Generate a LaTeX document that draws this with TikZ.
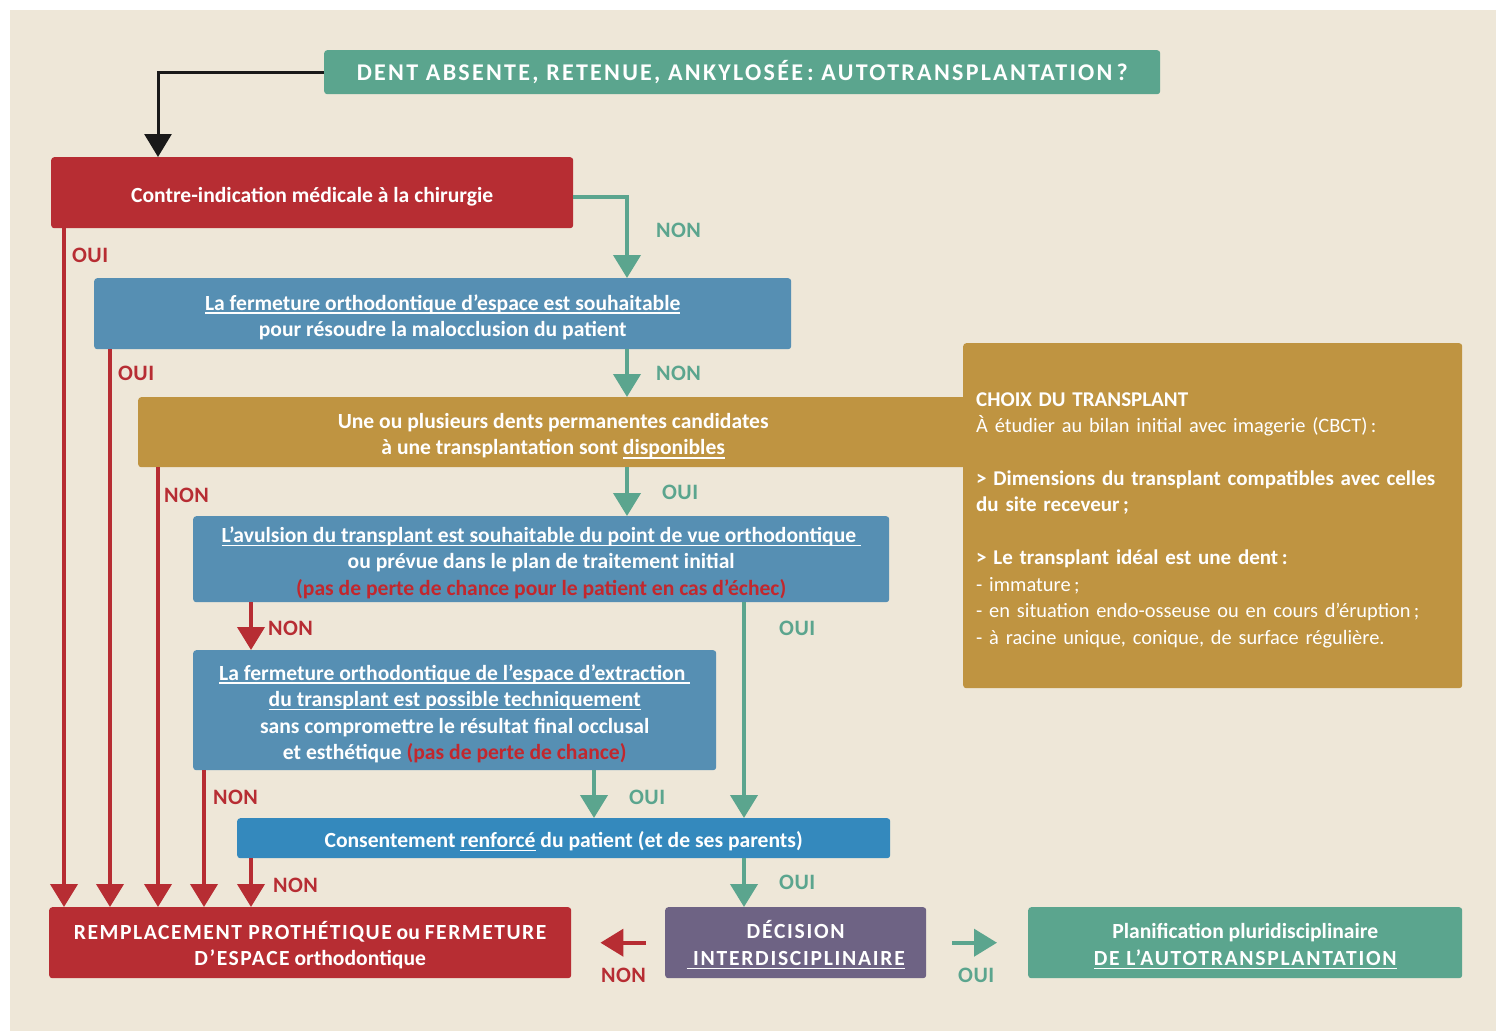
\documentclass[tikz,border=0pt]{standalone}
\usepackage{fontspec}
\setmainfont{Carlito}
\usetikzlibrary{arrows.meta}
\definecolor{bgc}{HTML}{EEE7D8}
\definecolor{tealc}{HTML}{5BA58E}
\definecolor{redc}{HTML}{B72D33}
\definecolor{bluec}{HTML}{568FB3}
\definecolor{consc}{HTML}{3489BD}
\definecolor{goldc}{HTML}{BF9441}
\definecolor{purc}{HTML}{6E6384}
\definecolor{redt}{HTML}{C2272D}
\newcommand\myul[1]{\setbox0\hbox{#1}\rlap{\vrule width\wd0 height -2.4pt depth 3.8pt}\box0\relax}
\newcommand\flst{\rule{0pt}{22.5pt}}
\tikzset{
  box/.style={rounded corners=3pt, inner sep=0pt, align=center, text=white,
    font=\bfseries\fontsize{21.6}{26.5}\selectfont, anchor=north west},
  tarr/.style={draw=tealc, line width=4pt, -{Triangle[width=27pt,length=23pt]}},
  rarr/.style={draw=redc, line width=4pt, -{Triangle[width=27pt,length=23pt]}},
  barr/.style={draw=black!90, line width=3pt, -{Triangle[width=27pt,length=23pt]}},
  lbl/.style={font=\bfseries\fontsize{22}{24}\selectfont\addfontfeature{LetterSpace=2}, inner sep=0pt, anchor=west},
  tl/.style={lbl, text=tealc},
  rl/.style={lbl, text=redc},
}
\begin{document}
\begin{tikzpicture}[x=1pt,y=-1pt]
\useasboundingbox (0,0) rectangle (1496,1031);
\fill[white] (0,0) rectangle (1496,1031);
\fill[bgc] (10,10) rectangle (1496,1031);

% x positions of vertical connectors
\coordinate (cx) at (627,0);
\coordinate (cy) at (744,0);
\coordinate (cz) at (594,0);
\coordinate (ck) at (158,0);

% boxes
\node[box, fill=tealc, minimum width=836pt, minimum height=44pt,
  font=\bfseries\fontsize{24}{26}\selectfont\addfontfeature{LetterSpace=9.5}] (top) at (324,50)
  {DENT ABSENTE, RETENUE, ANKYLOSÉE\,: AUTOTRANSPLANTATION\,?};

\node[box, fill=redc, minimum width=522pt, minimum height=71pt] (r1) at (51,157)
  {\flst Contre-indication médicale à la chirurgie};

\node[box, fill=bluec, minimum width=697pt, minimum height=71pt] (b2) at (94,278)
  {\flst\myul{La fermeture orthodontique d’espace est souhaitable}\\
   pour résoudre la malocclusion du patient};

\node[box, fill=goldc, minimum width=499pt, minimum height=345pt, align=left,
  text width=473pt, font=\fontsize{20.4}{26.45}\selectfont] (choix) at (963,343)
  {{\bfseries\fontsize{21}{26.45}\selectfont\flst CHOIX DU TRANSPLANT}\\
   À étudier au bilan initial avec imagerie (CBCT)\,:\\[26.45pt]
   {\bfseries\fontsize{21}{26.45}\selectfont > Dimensions du transplant compatibles avec celles}\\
   {\bfseries\fontsize{21}{26.45}\selectfont du site receveur\,;}\\[26.45pt]
   {\bfseries\fontsize{21}{26.45}\selectfont > Le transplant idéal est une dent\,:}\\
   - immature\,;\\
   - en situation endo-osseuse ou en cours d’éruption\,;\\
   - à racine unique, conique, de surface régulière.};

\node[box, fill=goldc, minimum width=830pt, minimum height=70pt] (b3) at (138,397)
  {\flst Une ou plusieurs dents permanentes candidates\\
   à une transplantation sont \myul{disponibles}};

\node[box, fill=bluec, minimum width=696pt, minimum height=86pt] (b4) at (193,516)
  {\flst\myul{L’avulsion du transplant est souhaitable du point de vue orthodontique\ }\\
   ou prévue dans le plan de traitement initial\\
   {\color{redt}(pas de perte de chance pour le patient en cas d’échec)}};

\node[box, fill=bluec, minimum width=523pt, minimum height=120pt] (b5) at (193,650)
  {\flst\myul{La fermeture orthodontique de l’espace d’extraction\ }\\
   \myul{du transplant est possible techniquement}\\
   sans compromettre le résultat final occlusal\\
   et esthétique {\color{redt}(pas de perte de chance)}};

\node[box, fill=consc, minimum width=653pt, minimum height=40pt] (cons) at (237,818)
  {\flst Consentement \myul{renforcé} du patient (et de ses parents)};

\node[box, fill=redc, minimum width=522pt, minimum height=71pt] (rb) at (49,907)
  {\flst{\addfontfeature{LetterSpace=7}REMPLACEMENT PROTHÉTIQUE} ou {\addfontfeature{LetterSpace=7}FERMETURE}\\
   {\addfontfeature{LetterSpace=7}D’ESPACE} orthodontique};

\node[box, fill=purc, minimum width=261pt, minimum height=71pt,
  font=\bfseries\fontsize{21.6}{26.5}\selectfont\addfontfeature{LetterSpace=8}] (pur) at (665,907)
  {\flst DÉCISION\\ \myul{\ INTERDISCIPLINAIRE}};

\node[box, fill=tealc, minimum width=434pt, minimum height=71pt] (gr) at (1028,907)
  {\flst Planification pluridisciplinaire\\ {\addfontfeature{LetterSpace=8}\myul{DE L’AUTOTRANSPLANTATION}}};

% connectors
\draw[barr] (top.west) -| (r1.north -| ck);
\draw[tarr] ([yshift=-4pt]r1.east) -| (b2.north -| cx);
\draw[tarr] (b2.south -| cx) -- (b3.north -| cx);
\draw[tarr] (b3.south -| cx) -- (b4.north -| cx);
\draw[tarr] (b4.south -| cy) -- (cons.north -| cy);
\draw[tarr] (b5.south -| cz) -- (cons.north -| cz);
\draw[tarr] (cons.south -| cy) -- (pur.north -| cy);
\draw[rarr] ([xshift=58pt]b4.south west) -- ([xshift=58pt]b4.south west |- b5.north);

\draw[rarr] ([xshift=13pt]r1.south west) -- ([xshift=13pt]r1.south west |- rb.north);
\draw[rarr] ([xshift=16pt]b2.south west) -- ([xshift=16pt]b2.south west |- rb.north);
\draw[rarr] ([xshift=20pt]b3.south west) -- ([xshift=20pt]b3.south west |- rb.north);
\draw[rarr] ([xshift=11pt]b5.south west) -- ([xshift=11pt]b5.south west |- rb.north);
\draw[rarr] ([xshift=14pt]cons.south west) -- ([xshift=14pt]cons.south west |- rb.north);

\draw[rarr, shorten <=19pt, shorten >=29pt] (pur.west) -- (rb.east);
\draw[tarr, shorten <=26pt, shorten >=31pt] (pur.east) -- (gr.west);

% labels
\node[tl] (l1) at (656,230) {NON};
\node[rl] (l2) at (72,255) {OUI};
\node[rl] (l3) at (118,373) {OUI};
\node[tl] (l4) at (656,373) {NON};
\node[rl] (l5) at (164,495) {NON};
\node[tl] (l6) at (662,492) {OUI};
\node[rl] (l7) at (268,628) {NON};
\node[tl] (l8) at (779,628) {OUI};
\node[rl] (l9) at (213,797) {NON};
\node[tl] (l10) at (629,797) {OUI};
\node[rl] (l11) at (273,885) {NON};
\node[tl] (l12) at (779,882) {OUI};
\node[rl] (l13) at (601,975) {NON};
\node[tl] (l14) at (958,975) {OUI};
\end{tikzpicture}
\end{document}
